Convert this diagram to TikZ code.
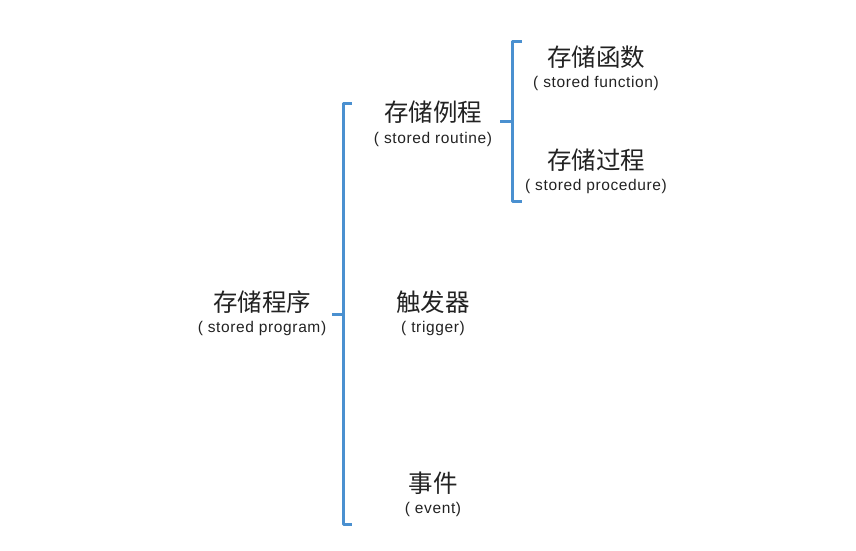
\documentclass[tikz,border=0pt]{standalone}
\usepackage{fontspec}
\setmainfont{Noto Sans CJK SC}
\newfontfamily\latinfont[LetterSpace=4]{Liberation Sans}
\usetikzlibrary{positioning}
\definecolor{bracketblue}{RGB}{74,144,208}
\definecolor{textgray}{RGB}{34,34,34}

\begin{document}
\begin{tikzpicture}[x=1pt,y=-1pt,
  brace/.style={bracketblue,line width=3pt,line join=round},
  zh/.style={textgray,inner sep=0pt,font=\fontsize{24.5}{24.5}\selectfont},
  en/.style={textgray,inner sep=0pt,font=\latinfont\fontsize{15.5}{15.5}\selectfont}]
 \useasboundingbox (0,0) rectangle (856,551);

    % draw the big bracket
    \coordinate (bigtop) at (352,103);
    \coordinate (bigbot) at (352,524);
    \coordinate (bigmid) at (343,314);
    \draw[brace] (bigtop) -- (343,103) -- (343,524) -- (bigbot);
    \draw[brace] (bigmid) -- ++(-11,0);

    % draw the small bracket
    \coordinate (smalltop) at (522,42);
    \coordinate (smallbot) at (522,201);
    \coordinate (smallmid) at (512,121);
    \draw[brace] (smalltop) -- (512,42) -- (512,201) -- (smallbot);
    \draw[brace] (smallmid) -- ++(-12,0);

    % labels
    \node[zh] (program)  at (262,302) {存储程序};
    \node[en] (programen) at (262,328) {( stored program)};

    \node[zh] (routine)  at (433,112) {存储例程};
    \node[en] (routineen) at (433,139) {( stored routine)};

    \node[zh] (function)  at (596,57) {存储函数};
    \node[en] (functionen) at (596,83) {( stored function)};

    \node[zh] (procedure)  at (596,160) {存储过程};
    \node[en] (procedureen) at (596,186) {( stored procedure)};

    \node[zh] (trigger)  at (433,302) {触发器};
    \node[en] (triggeren) at (433,328) {( trigger)};

    \node[zh] (event)  at (433,483) {事件};
    \node[en] (eventen) at (433,509) {( event)};

\end{tikzpicture}
\end{document}
